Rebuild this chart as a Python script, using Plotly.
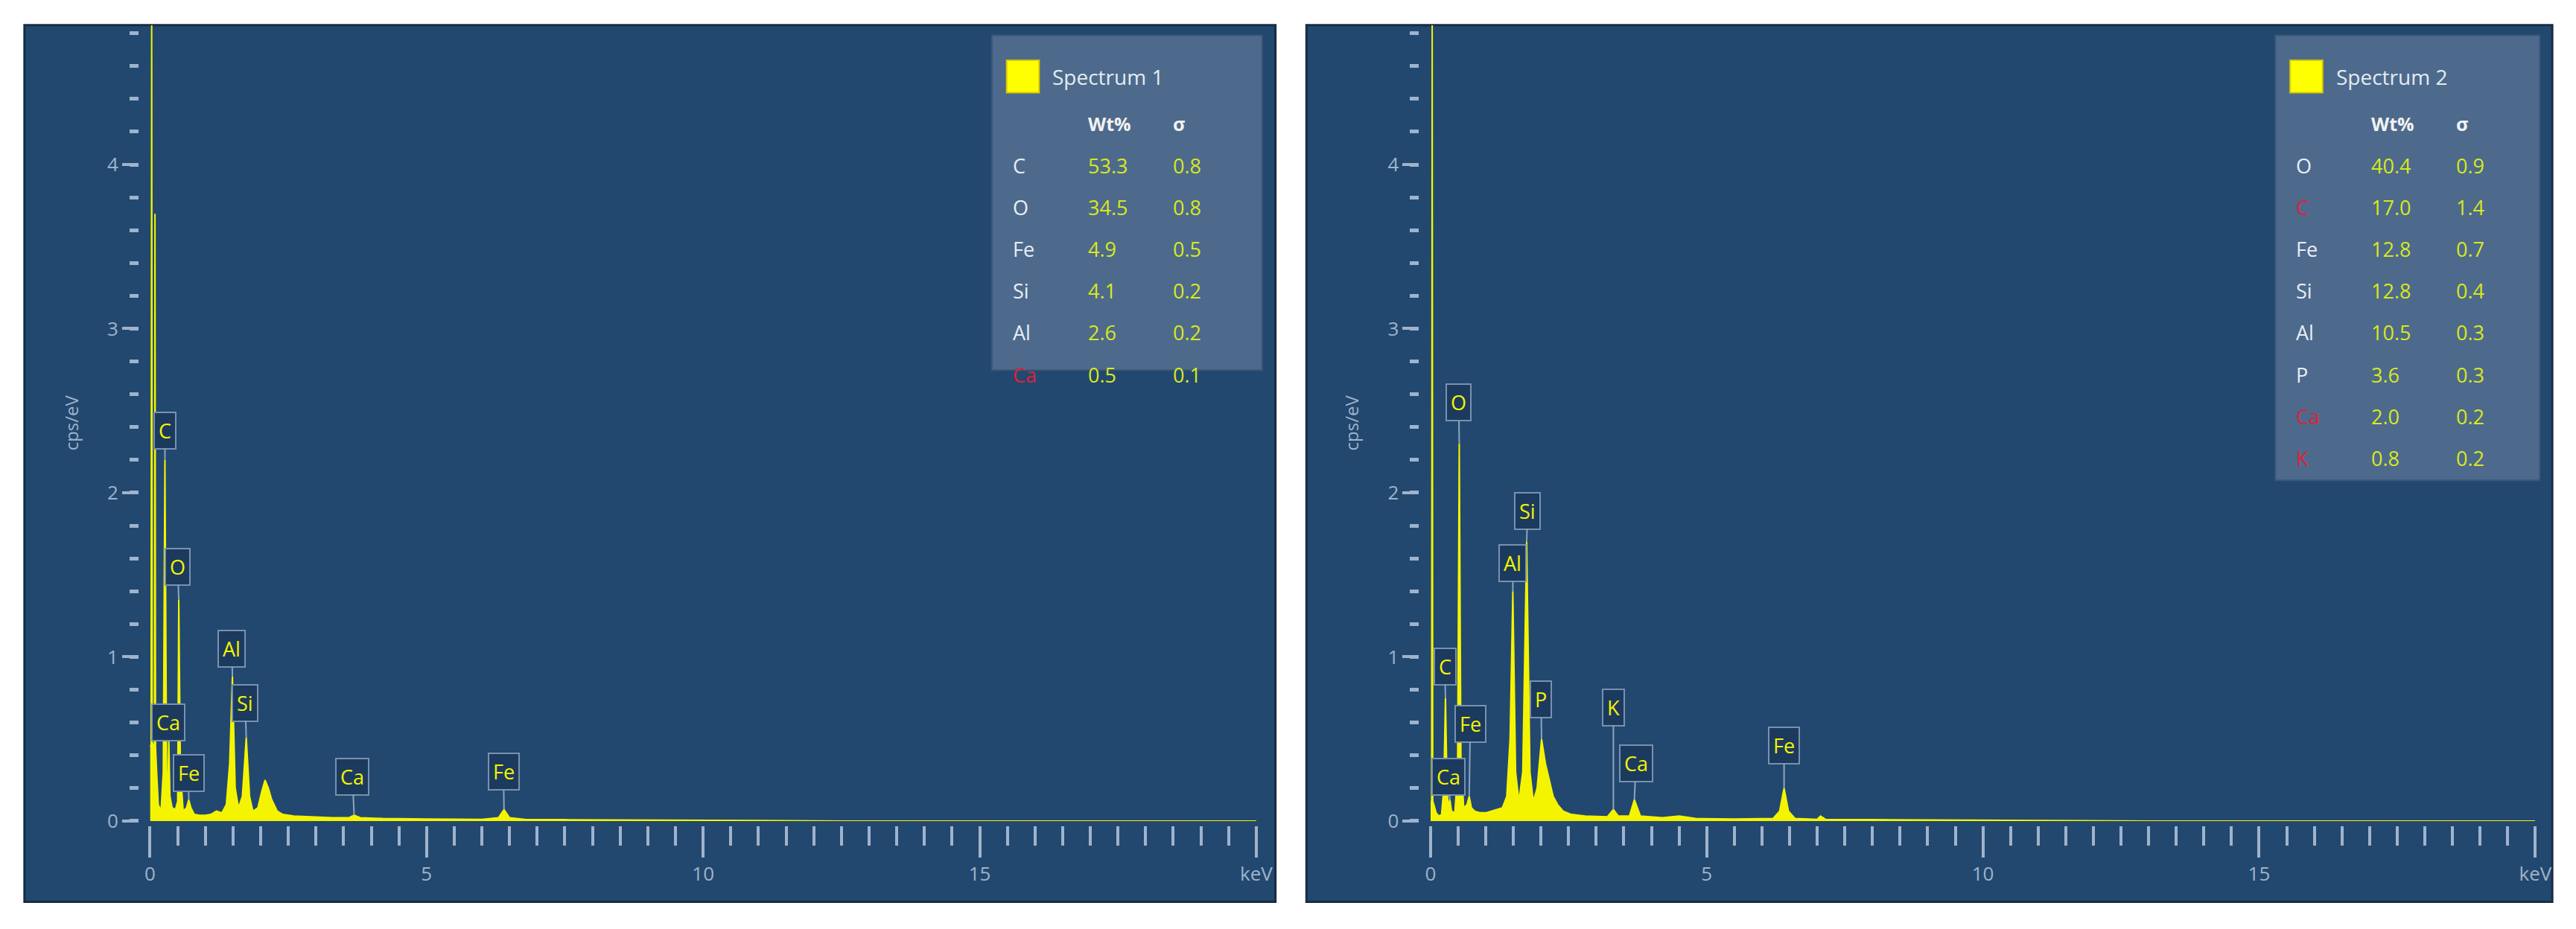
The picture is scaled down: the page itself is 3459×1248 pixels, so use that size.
import plotly.graph_objects as go

# spectrum 1 (energy keV, counts cps/eV)
energy_1 = [0.00, 0.02, 0.03, 0.04, 0.06, 0.08, 0.09, 0.10, 0.12, 0.15, 0.2, 0.24, 0.27, 0.30, 0.32, 0.34, 0.36,
            0.40, 0.46, 0.50, 0.52, 0.55, 0.60, 0.66, 0.70, 0.74, 0.80, 0.9, 1.0, 1.1, 1.2, 1.3, 1.38, 1.44, 1.49,
            1.54, 1.60, 1.67, 1.74, 1.80, 1.86, 1.95, 2.02, 2.08, 2.14, 2.20, 2.30, 2.40, 2.6, 2.9, 3.3, 3.6, 3.69,
            3.8, 4.2, 5, 6.0, 6.3, 6.4, 6.5, 6.8, 7.5, 9, 10, 11, 12, 12.5, 20]
counts_1 = [0.45, 0.47, 4.85, 0.48, 0.46, 0.45, 3.7, 0.45, 0.3, 0.1, 0.06, 0.3, 2.2, 0.3, 0.15, 0.5, 0.15,
            0.08, 0.07, 0.12, 1.35, 0.3, 0.06, 0.08, 0.13, 0.08, 0.04, 0.035, 0.035, 0.04, 0.06, 0.05, 0.1, 0.35, 0.88,
            0.2, 0.08, 0.15, 0.51, 0.15, 0.06, 0.08, 0.18, 0.25, 0.2, 0.13, 0.06, 0.04, 0.03, 0.025, 0.02, 0.02, 0.035,
            0.02, 0.015, 0.012, 0.01, 0.02, 0.07, 0.02, 0.008, 0.008, 0.006, 0.006, 0.004, 0.003, 0.0, 0.0]

# spectrum 2
energy_2 = [0.00, 0.02, 0.03, 0.04, 0.06, 0.10, 0.15, 0.20, 0.24, 0.27, 0.30, 0.32, 0.35, 0.38, 0.44, 0.49, 0.52,
            0.55, 0.60, 0.66, 0.70, 0.74, 0.80, 0.9, 1.0, 1.1, 1.2, 1.3, 1.38, 1.44, 1.49, 1.54, 1.60, 1.67, 1.74,
            1.80, 1.86, 1.93, 2.01, 2.08, 2.15, 2.22, 2.30, 2.40, 2.55, 2.8, 3.2, 3.31, 3.4, 3.6, 3.69, 3.8, 4.2,
            4.5, 4.8, 5.5, 6.2, 6.32, 6.4, 6.48, 6.6, 7.0, 7.06, 7.15, 8, 10, 12, 13, 20]
counts_2 = [0.12, 0.12, 4.85, 0.12, 0.1, 0.05, 0.03, 0.04, 0.2, 0.75, 0.2, 0.08, 0.13, 0.06, 0.05, 0.3, 2.3,
            0.4, 0.08, 0.1, 0.15, 0.08, 0.06, 0.05, 0.05, 0.06, 0.07, 0.08, 0.15, 0.5, 1.4, 0.3, 0.12, 0.3, 1.7,
            0.3, 0.12, 0.2, 0.5, 0.35, 0.25, 0.15, 0.1, 0.06, 0.04, 0.03, 0.025, 0.07, 0.03, 0.03, 0.13, 0.03, 0.02,
            0.03, 0.015, 0.012, 0.015, 0.06, 0.2, 0.06, 0.015, 0.01, 0.03, 0.01, 0.008, 0.006, 0.004, 0, 0]

# peak tags: label, peak energy, peak height, tag energy, tag height
tags_1 = [("C", 0.27, 2.2, 0.27, 2.38), ("O", 0.52, 1.35, 0.5, 1.55), ("Al", 1.49, 0.88, 1.48, 1.05),
          ("Si", 1.74, 0.51, 1.72, 0.72), ("Ca", 0.34, 0.5, 0.33, 0.6), ("Fe", 0.70, 0.13, 0.7, 0.29),
          ("Ca", 3.69, 0.035, 3.66, 0.27), ("Fe", 6.4, 0.07, 6.39, 0.3)]
tags_2 = [("O", 0.52, 2.3, 0.51, 2.55), ("C", 0.27, 0.75, 0.26, 0.94), ("Ca", 0.35, 0.13, 0.32, 0.27),
          ("Fe", 0.70, 0.15, 0.72, 0.59), ("Al", 1.49, 1.4, 1.49, 1.57), ("Si", 1.74, 1.7, 1.76, 1.89),
          ("P", 2.01, 0.5, 2.0, 0.74), ("K", 3.31, 0.07, 3.31, 0.69), ("Ca", 3.69, 0.13, 3.72, 0.35),
          ("Fe", 6.4, 0.2, 6.4, 0.46)]

# quant tables
elems_1 = ["C", "O", "Fe", "Si", "Al", "Ca"]
wt_1 = ["53.3", "34.5", "4.9", "4.1", "2.6", "0.5"]
sig_1 = ["0.8", "0.8", "0.5", "0.2", "0.2", "0.1"]
flag_1 = [False, False, False, False, False, True]
elems_2 = ["O", "C", "Fe", "Si", "Al", "P", "Ca", "K"]
wt_2 = ["40.4", "17.0", "12.8", "12.8", "10.5", "3.6", "2.0", "0.8"]
sig_2 = ["0.9", "1.4", "0.7", "0.4", "0.3", "0.3", "0.2", "0.2"]
flag_2 = [False, True, False, False, False, False, True, True]

W, H = 3459, 1248
FONT = "Open Sans"
YEL = "#f4f400"
TICK = "#9fb3cb"

fig = go.Figure()
shapes = []
annotations = []

panels = [
    dict(e=energy_1, c=counts_1, tags=tags_1, el=elems_1, wt=wt_1, sg=sig_1, fl=flag_1, name="Spectrum 1",
         frame=(18, 1712), plot=(188, 1686), box=(1328, 1694, 40, 496)),
    dict(e=energy_2, c=counts_2, tags=tags_2, el=elems_2, wt=wt_2, sg=sig_2, fl=flag_2, name="Spectrum 2",
         frame=(1754, 3441), plot=(1922, 3418), box=(3066, 3424, 40, 646)),
]

y_bot = 1 - 1110 / H
y_top = 1 - 26 / H


def paper_text(x, y, text, size, color):
    return dict(x=x / W, y=1 - y / H, xref="paper", yref="paper", xanchor="left", yanchor="middle",
                text=text, showarrow=False, font=dict(family=FONT, size=size, color=color))


for i, p in enumerate(panels):
    n = "" if i == 0 else str(i + 1)
    xa, ya = "x" + n, "y" + n
    fx0, fx1 = p["frame"][0] / W, p["frame"][1] / W
    px0, px1 = p["plot"][0] / W, p["plot"][1] / W
    shapes.append(dict(type="rect", xref="paper", yref="paper", x0=fx0, x1=fx1, y0=1 - 1220 / H, y1=y_top,
                       fillcolor="#22486f", line=dict(color="#172c44", width=3), layer="below"))
    fig.add_trace(go.Scatter(x=p["e"], y=p["c"], mode="lines", fill="tozeroy", fillcolor=YEL,
                             line=dict(color=YEL, width=2), xaxis=xa, yaxis=ya, showlegend=False))
    fig.layout["xaxis" + n] = dict(domain=[px0, px1], range=[0, 20], anchor="free", position=1 - 1116 / H,
                                  showgrid=False, zeroline=False, showline=False,
                                  tickvals=[0, 5, 10, 15, 20], ticktext=["0", "5", "10", "15", "keV"],
                                  ticks="outside", ticklen=42, tickwidth=4, tickcolor=TICK,
                                  minor=dict(dtick=0.5, ticks="outside", ticklen=26, tickwidth=4, tickcolor=TICK),
                                  tickfont=dict(family=FONT, size=26, color=TICK), fixedrange=True)
    fig.layout["yaxis" + n] = dict(domain=[y_bot, y_top], range=[0, 4.85], anchor="free", position=px0 - 0.0045,
                                  showgrid=False, zeroline=False, showline=False,
                                  tickvals=[0, 1, 2, 3, 4], ticks="outside", ticklen=22, tickwidth=4,
                                  tickcolor=TICK, minor=dict(dtick=0.2, ticks="outside", ticklen=12, tickwidth=5,
                                                             tickcolor=TICK),
                                  tickfont=dict(family=FONT, size=26, color=TICK),
                                  title=dict(text="cps/eV", font=dict(family=FONT, size=24, color=TICK),
                                             standoff=30), fixedrange=True)
    for lab, pe, ph, te, th in p["tags"]:
        annotations.append(dict(x=pe, y=ph, ax=te, ay=th, xref=xa, yref=ya, axref=xa, ayref=ya, text=lab,
                                showarrow=True, arrowhead=0, arrowwidth=2, arrowcolor="#8ea4bd", standoff=0,
                                bgcolor="#1c3a5e", bordercolor="#7892b0", borderwidth=2, borderpad=5,
                                font=dict(family=FONT, size=27, color=YEL)))
    bx0, bx1, by0, by1 = p["box"]
    shapes.append(dict(type="rect", xref="paper", yref="paper", x0=bx0 / W, x1=bx1 / W, y0=1 - by1 / H,
                       y1=1 - by0 / H, fillcolor="#4d6a8c", line=dict(color="#3c5676", width=2)))
    shapes.append(dict(type="rect", xref="paper", yref="paper", x0=(bx0 + 20) / W, x1=(bx0 + 64) / W,
                       y0=1 - 118 / H, y1=1 - 74 / H, fillcolor="#ffff00", line=dict(color="#d8c800", width=2)))
    annotations.append(paper_text(bx0 + 80, 96, p["name"], 28, "#e4ebf3"))
    annotations.append(paper_text(bx0 + 128, 160, "<b>Wt%</b>", 25, "#f2f2f2"))
    annotations.append(paper_text(bx0 + 243, 160, "<b>σ</b>", 25, "#f2f2f2"))
    for k in range(len(p["el"])):
        yy = 217 + 57 * k
        annotations.append(paper_text(bx0 + 26, yy, p["el"][k], 27, "#e0203a" if p["fl"][k] else "#e8eef5"))
        annotations.append(paper_text(bx0 + 128, yy, p["wt"][k], 27, "#d9e81c"))
        annotations.append(paper_text(bx0 + 243, yy, p["sg"][k], 27, "#d9e81c"))

fig.update_layout(width=W, height=H, margin=dict(l=0, r=0, t=0, b=0), paper_bgcolor="white",
                  plot_bgcolor="rgba(0,0,0,0)", shapes=shapes, annotations=annotations, showlegend=False)

fig.write_html("out.html")
